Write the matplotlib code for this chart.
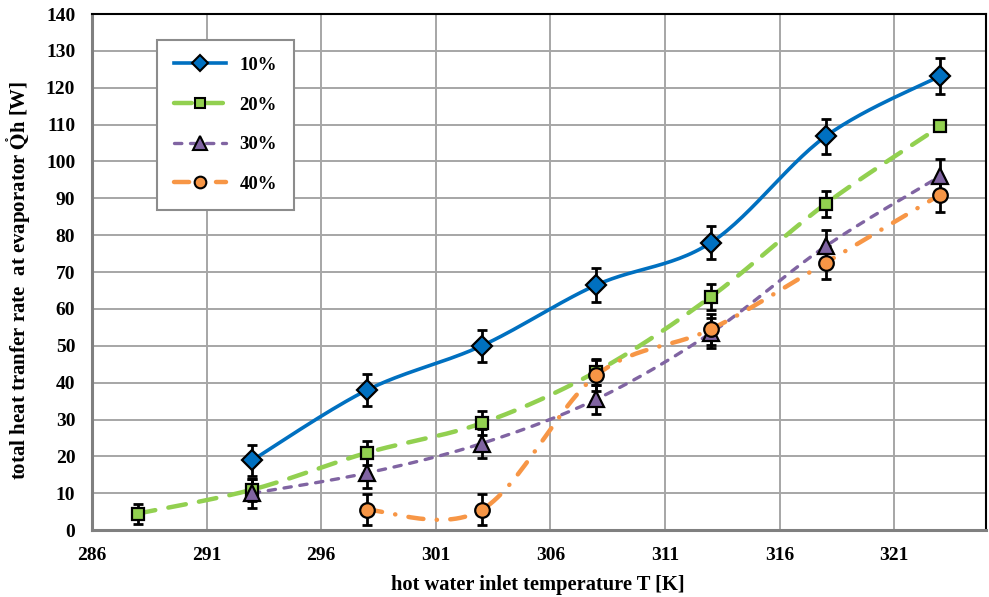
import numpy as np
import matplotlib
matplotlib.use("Agg")
import matplotlib.pyplot as plt
from matplotlib.lines import Line2D

# data
t_10 = [293, 298, 303, 308, 313, 318, 323]
q_10 = [19, 38, 50, 66.5, 78, 106.8, 123.2]
e_10 = [4.2, 4.3, 4.3, 4.5, 4.5, 4.7, 5.0]

t_20 = [288, 293, 298, 303, 308, 313, 318, 323]
q_20 = [4.5, 11, 21, 29, 43, 63.3, 88.5, 109.5]
e_20 = [2.7, 3.0, 3.3, 3.3, 3.5, 3.6, 3.6, 1.0]

t_30 = [293, 298, 303, 308, 313, 318, 323]
q_30 = [10, 15.5, 23.5, 35.5, 53.5, 77, 96]
e_30 = [4.0, 4.0, 4.0, 4.0, 4.0, 4.5, 4.6]

t_40 = [298, 303, 308, 313, 318, 323]
q_40 = [5.5, 5.5, 42, 54.5, 72.5, 91]
e_40 = [4.2, 4.2, 4.2, 4.2, 4.5, 4.6]

labels = ["10%", "20%", "30%", "40%"]
colors = ["#0070C0", "#92D050", "#8064A2", "#F79646"]
markers = ["D", "s", "^", "o"]
msizes = [10, 9, 12, 10.5]

SERIF = ["Liberation Serif", "DejaVu Serif"]
plt.rcParams["font.family"] = SERIF
plt.rcParams["font.weight"] = "bold"
plt.rcParams["mathtext.fontset"] = "stix"


def smooth(x, y, n=30):
    # Excel-style smoothed line: cubic Bezier with Catmull-Rom control points
    x = np.asarray(x, float)
    y = np.asarray(y, float)
    p = np.column_stack([x, y])
    out = [p[0]]
    s = np.linspace(0, 1, n)[1:, None]
    for i in range(len(p) - 1):
        p0 = p[i - 1] if i > 0 else p[i]
        p3 = p[i + 2] if i + 2 < len(p) else p[i + 1]
        c1 = p[i] + (p[i + 1] - p0) / 6
        c2 = p[i + 1] - (p3 - p[i]) / 6
        seg = ((1 - s) ** 3) * p[i] + 3 * ((1 - s) ** 2) * s * c1 \
            + 3 * (1 - s) * s ** 2 * c2 + s ** 3 * p[i + 1]
        out.extend(seg)
    out = np.array(out)
    return out[:, 0], out[:, 1]


fig = plt.figure(figsize=(9.89, 5.97), dpi=100)
ax = fig.add_axes([0.093, 0.112, 0.904, 0.8645])

series = [(t_10, q_10, e_10), (t_20, q_20, e_20), (t_30, q_30, e_30), (t_40, q_40, e_40)]
styles = [
    dict(linestyle="-", linewidth=2.6),
    dict(linewidth=3.2, dashes=(4.0, 3.0), dash_capstyle="round"),
    dict(linewidth=2.4, dashes=(2.2, 2.6), dash_capstyle="round"),
    dict(linewidth=3.2, dashes=(3.4, 3.0, 0.05, 3.0), dash_capstyle="round"),
]

handles = []
for k, (t, q, e) in enumerate(series):
    xs, ys = smooth(t, q)
    ax.plot(xs, ys, color=colors[k], zorder=3 + k * 0.1, **styles[k])
    ax.errorbar(t, q, yerr=e, fmt="none", ecolor="black", elinewidth=2,
                capsize=3.5, capthick=2, zorder=5 + k * 0.1)
    ax.plot(t, q, linestyle="none", marker=markers[k], markersize=msizes[k],
            markerfacecolor=colors[k], markeredgecolor="black",
            markeredgewidth=1.6, zorder=6 + k * 0.1)
    h = Line2D([], [], color=colors[k], marker=markers[k],
               markersize=msizes[k] * 0.8, markerfacecolor=colors[k],
               markeredgecolor="black", markeredgewidth=1.5, **styles[k])
    handles.append(h)

ax.set_xlim(286, 325)
ax.set_ylim(0, 140)
ax.set_xticks(np.arange(286, 322, 5))
ax.set_yticks(np.arange(0, 141, 10))
ax.grid(True, color="#a6a6a6", linewidth=1.4)
ax.set_axisbelow(True)
ax.tick_params(length=0, labelsize=14)
ax.tick_params(axis="y", pad=12)
ax.tick_params(axis="x", pad=12)
for lab in ax.get_xticklabels() + ax.get_yticklabels():
    lab.set_fontweight("bold")

for side in ["top", "right"]:
    ax.spines[side].set_color("black")
    ax.spines[side].set_linewidth(1.5)
for side in ["left", "bottom"]:
    ax.spines[side].set_color("#808080")
    ax.spines[side].set_linewidth(2.2)

ax.set_xlabel("hot water inlet temperature T [K]", fontsize=14.8,
              fontweight="bold")
ax.set_ylabel(r"total heat tranfer rate  at evaporator $\mathbf{\mathring{Q}h}$ [W]",
              fontsize=15, fontweight="bold")
ax.xaxis.set_label_coords(0.499, -0.086)
ax.yaxis.set_label_coords(-0.066, 0.485)

leg = ax.legend(handles, labels, loc="upper left",
                bbox_to_anchor=(0.0727, 0.9496), borderaxespad=0,
                fancybox=False, framealpha=1, edgecolor="#8c8c8c",
                prop=dict(family=SERIF, weight="bold", size=13.5),
                handlelength=2.8, labelspacing=1.2, borderpad=0.9,
                handletextpad=0.7)
leg.get_frame().set_linewidth(1.5)

fig.savefig("out.png", dpi=100)
